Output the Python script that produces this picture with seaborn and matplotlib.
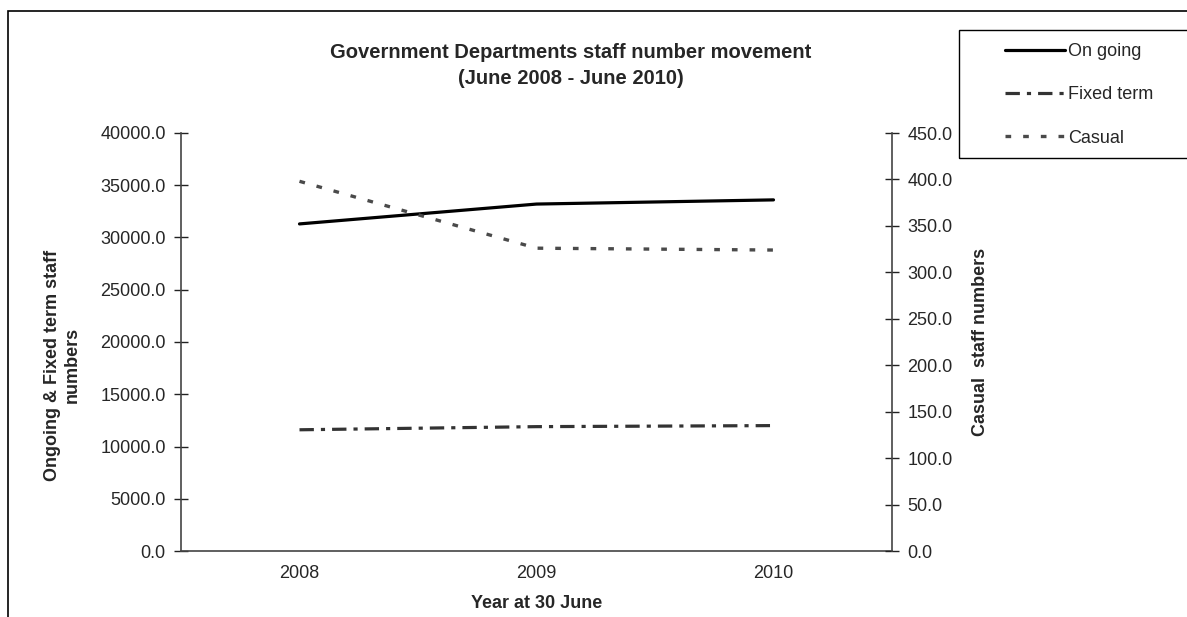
import matplotlib
matplotlib.use("Agg")
import matplotlib.pyplot as plt
from matplotlib.patches import Rectangle
from matplotlib.lines import Line2D
import seaborn as sns
import pandas as pd

# Staff numbers at 30 June each year
years = ["2008", "2009", "2010"]
ongoing = [31300, 33200, 33600]
fixed_term = [11600, 11900, 12000]
casual = [398, 326, 324]

sns.set_theme(style="white")
plt.rcParams["font.family"] = ["Liberation Sans", "DejaVu Sans"]

W, H = 1187, 617
fig = plt.figure(figsize=(W / 100, H / 100), dpi=100)

def fx(px):
    return px / W

def fy(py):
    return 1 - py / H

ax = fig.add_axes([fx(181), fy(551), fx(892) - fx(181), fy(133) - fy(551)])
ax2 = ax.twinx()

pos = list(range(len(years)))
df = pd.DataFrame({"pos": pos, "ongoing": ongoing, "fixed": fixed_term, "casual": casual})

FIXED_DASH = (4.5, 2.2, 1.3, 2.2)
CASUAL_DASH = (1.7, 3.6)

sns.lineplot(data=df, x="pos", y="ongoing", ax=ax, color="black", lw=2.3, legend=False)
sns.lineplot(data=df, x="pos", y="fixed", ax=ax, color="#333333", lw=2.3, legend=False)
ax.lines[-1].set_dashes(FIXED_DASH)
ax.lines[-1].set_dash_capstyle("butt")
sns.lineplot(data=df, x="pos", y="casual", ax=ax2, color="#4a4a4a", lw=2.4, legend=False)
ax2.lines[-1].set_dashes(CASUAL_DASH)
ax2.lines[-1].set_dash_capstyle("butt")

ax.set_xlim(-0.5, 2.5)
ax.set_ylim(0, 40000)
ax2.set_ylim(0, 450)

# category labels between boundary ticks
ax.set_xticks(pos)
ax.set_xticklabels(years, fontsize=13)
ax.set_xticks([-0.5, 0.5, 1.5, 2.5], minor=True)
ax.tick_params(axis="x", which="major", length=0, pad=10)
ax.tick_params(axis="x", which="minor", length=10, width=1, direction="inout", color="#222222")

ax.set_yticks(range(0, 40001, 5000))
ax.set_yticklabels([f"{v:.1f}" for v in range(0, 40001, 5000)], fontsize=13)
ax.tick_params(axis="y", length=10, width=1, direction="inout", color="#222222", pad=6,
               left=True)
ax2.set_yticks(range(0, 451, 50))
ax2.set_yticklabels([f"{v:.1f}" for v in range(0, 451, 50)], fontsize=13)
ax2.tick_params(axis="y", length=10, width=1, direction="inout", color="#222222", pad=6,
                right=True)

for a in (ax, ax2):
    a.set_xlabel("")
    a.set_ylabel("")
    a.grid(False)
    a.spines["top"].set_visible(False)
    for s in ("left", "right", "bottom"):
        a.spines[s].set_color("#444444")
        a.spines[s].set_linewidth(1.2)
ax2.spines["left"].set_visible(False)
ax2.spines["bottom"].set_visible(False)
ax.spines["right"].set_visible(False)

fig.text(fx(571), fy(52), "Government Departments staff number movement",
         ha="center", va="center", fontsize=14.5, fontweight="bold")
fig.text(fx(571), fy(78), "(June 2008 - June 2010)",
         ha="center", va="center", fontsize=14.5, fontweight="bold")

fig.text(fx(62), fy(365), "Ongoing & Fixed term staff\nnumbers", rotation=90,
         ha="center", va="center", fontsize=13, fontweight="bold", multialignment="center",
         linespacing=1.2)
fig.text(fx(980), fy(342), "Casual  staff numbers", rotation=90,
         ha="center", va="center", fontsize=13, fontweight="bold")
fig.text(fx(537), fy(603), "Year at 30 June", ha="center", va="center",
         fontsize=13, fontweight="bold")

# outer chart border and legend box
fig.patches.append(Rectangle((fx(8), -0.2), 1.2, fy(11) + 0.2, transform=fig.transFigure,
                             fill=False, edgecolor="black", lw=1.2))
fig.patches.append(Rectangle((fx(959), fy(158)), 0.5, fy(30) - fy(158),
                             transform=fig.transFigure, fill=False, edgecolor="black", lw=1.0))

handles = [
    Line2D([], [], color="black", lw=2.3),
    Line2D([], [], color="#333333", lw=2.3, dashes=FIXED_DASH),
    Line2D([], [], color="#4a4a4a", lw=2.4, dashes=CASUAL_DASH),
]
fig.legend(handles, ["On going", "Fixed term", "Casual"], loc="upper left",
           bbox_to_anchor=(fx(998), fy(36)), frameon=False, fontsize=13,
           handlelength=3.3, handletextpad=0.2, labelspacing=1.45, borderaxespad=0)

fig.savefig("out.png", dpi=100, facecolor="white")
